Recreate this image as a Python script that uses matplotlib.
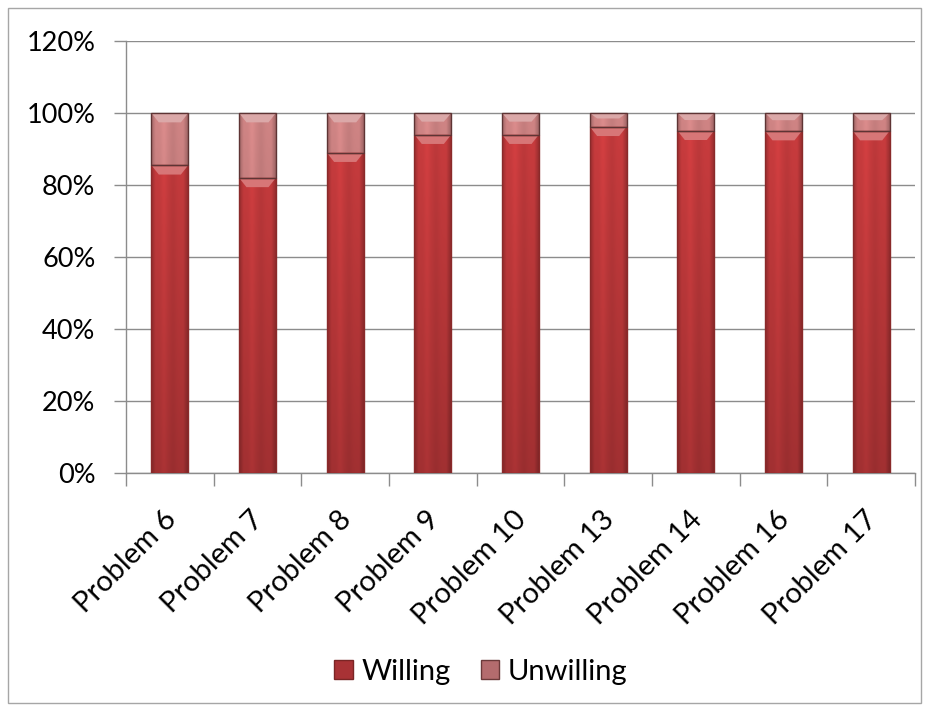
import numpy as np
import matplotlib
matplotlib.use("Agg")
import matplotlib.pyplot as plt
from matplotlib.patches import Rectangle, Patch
from matplotlib.transforms import ScaledTranslation

plt.rcParams['font.family'] = ['Lato', 'DejaVu Sans']

categories = ["Problem 6", "Problem 7", "Problem 8", "Problem 9", "Problem 10",
              "Problem 13", "Problem 14", "Problem 16", "Problem 17"]
willing = [85.5, 82.0, 89.0, 94.0, 94.0, 96.2, 95.1, 95.0, 95.0]
unwilling = [100 - w for w in willing]
yticks = [0, 20, 40, 60, 80, 100, 120]

W = 931
H = 713
FS_Y = 19.5
FS_X = 21
fig = plt.figure(figsize=(W / 100, H / 100), dpi=100)
ax = fig.add_axes([126 / W, 1 - 473 / H, (915 - 126) / W, (473 - 41) / H])

# chart-area frame
fig.patches.append(Rectangle((8 / W, 1 - 703 / H), (921 - 8) / W, (703 - 8) / H,
                             transform=fig.transFigure, fill=False,
                             edgecolor="#a6a6a6", linewidth=1.0))

x = np.arange(len(categories))
bw = 0.42


def shade(c, f):
    c = np.array(matplotlib.colors.to_rgb(c))
    if f < 1:
        return c * f
    return c + (1 - c) * (f - 1)


def bevel_bar(ax, xc, bottom, height, base, edge):
    rect = Rectangle((xc - bw / 2, bottom), bw, height, facecolor=base,
                     edgecolor="none", zorder=3)
    ax.add_patch(rect)
    base_rgb = np.array(matplotlib.colors.to_rgb(base))
    # horizontal profile: dark edges, light streak left of centre
    u = np.linspace(0, 1, 48)
    prof = (0.80 + 0.22 * np.clip(u / 0.12, 0, 1) - 0.22 * np.clip((u - 0.88) / 0.12, 0, 1)
            + 0.06 * np.exp(-((u - 0.35) / 0.08) ** 2)
            - 0.05 * np.exp(-((u - 0.6) / 0.1) ** 2))
    # vertical darkening towards the axis
    ny = 60
    yy = np.linspace(bottom + height, bottom, ny)
    vert = 0.80 + 0.20 * (yy / 100.0)
    img = np.clip(base_rgb[None, None, :] * prof[None, :, None] * vert[:, None, None], 0, 1)
    im = ax.imshow(img, extent=(xc - bw / 2, xc + bw / 2, bottom, bottom + height),
                   aspect="auto", zorder=3.1, interpolation="bilinear")
    im.set_clip_path(rect)
    # light top bevel
    th = min(2.6, height * 0.4)
    top = bottom + height
    inset = bw * 0.2
    ax.fill([xc - bw / 2, xc + bw / 2, xc + bw / 2 - inset, xc - bw / 2 + inset],
            [top, top, top - th, top - th], color=shade(base, 1.3), zorder=3.2,
            linewidth=0)
    ax.add_patch(Rectangle((xc - bw / 2, bottom), bw, height, fill=False,
                           edgecolor=edge, linewidth=1.0, zorder=3.3))


willing_col = "#c63b3d"
unwilling_col = "#cc8282"
for xi, w, u in zip(x, willing, unwilling):
    bevel_bar(ax, xi, 0, w, willing_col, "#8a2a2a")
    bevel_bar(ax, xi, w, u, unwilling_col, "#5e3434")

ax.set_xlim(-0.5, len(categories) - 0.5)
ax.set_ylim(0, 120)
ax.set_yticks(yticks)
ax.set_yticklabels([f"{v}%" for v in yticks], fontsize=FS_Y)
ax.yaxis.grid(True, color="#8c8c8c", linewidth=1.0)
ax.set_axisbelow(True)

ax.set_xticks(np.arange(len(categories) + 1) - 0.5)
ax.set_xticklabels([])
ax.set_xticks(x, minor=True)
ax.set_xticklabels(categories, minor=True, rotation=45, ha="right", va="center",
                   rotation_mode="anchor", fontsize=FS_X)
ax.tick_params(axis="x", which="minor", length=0, pad=27)
ax.tick_params(axis="x", which="major", length=9, color="#8c8c8c", width=1.0)
ax.tick_params(axis="y", length=9, color="#8c8c8c", width=1.0, pad=13)
for lbl in ax.get_xticklabels(minor=True):
    lbl.set_transform(lbl.get_transform() + ScaledTranslation(2 / 100, -5 / 100, fig.dpi_scale_trans))

for s in ["top", "right"]:
    ax.spines[s].set_visible(False)
for s in ["left", "bottom"]:
    ax.spines[s].set_color("#8c8c8c")
    ax.spines[s].set_linewidth(1.0)

handles = [Patch(facecolor="#a83235", edgecolor="#7a2525", label="Willing"),
           Patch(facecolor="#b46c6e", edgecolor="#6b3a3a", label="Unwilling")]
fig.legend(handles=handles, loc="center", bbox_to_anchor=(481 / W, 1 - 672 / H),
           ncol=2, frameon=False, fontsize=FS_X, handlelength=0.62, handleheight=0.62,
           handletextpad=0.3, columnspacing=1.05)

fig.savefig("out.png", dpi=100)
